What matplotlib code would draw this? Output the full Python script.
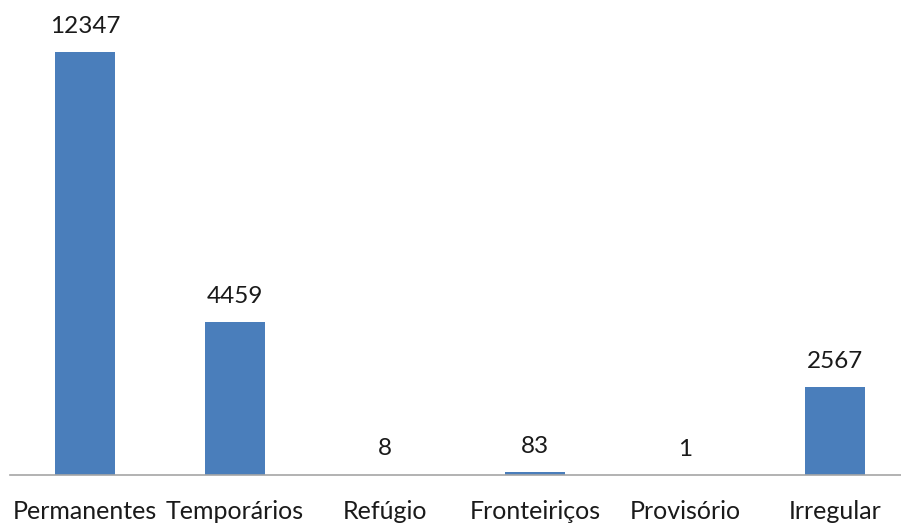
import matplotlib
matplotlib.use("Agg")
import matplotlib.pyplot as plt
import numpy as np

categorias = ['Permanentes', 'Temporários', 'Refúgio', 'Fronteiriços', 'Provisório', 'Irregular']
valores = [12347, 4459, 8, 83, 1, 2567]

plt.rcParams['font.family'] = ['Lato', 'DejaVu Sans']

fig = plt.figure(figsize=(9.01, 5.23), dpi=100)
ax = fig.add_axes([10 / 901, 48 / 523, 891 / 901, 475 / 523])

x = np.arange(len(categorias))
ax.bar(x, valores, width=0.4, color='#4A7EBB', zorder=2)

# centros a 85 px e 150 px entre categorias
ax.set_xlim(-0.5, (901 - 85) / 150)
ax.set_ylim(0, 12347 * 475 / 423)

for xi, v in zip(x, valores):
    ax.annotate(str(v), (xi, v), xytext=(0, 11), textcoords='offset points',
                ha='center', va='bottom', fontsize=17.5, color='#1a1a1a')

for s in ['top', 'right', 'left']:
    ax.spines[s].set_visible(False)
ax.spines['bottom'].set_color('#A6A6A6')
ax.spines['bottom'].set_linewidth(1.2)
ax.set_yticks([])
ax.set_xticks(x)
ax.set_xticklabels(categorias, fontsize=18, color='#1a1a1a')
ax.tick_params(axis='x', length=0, pad=18)

fig.savefig('out.png', dpi=100)
